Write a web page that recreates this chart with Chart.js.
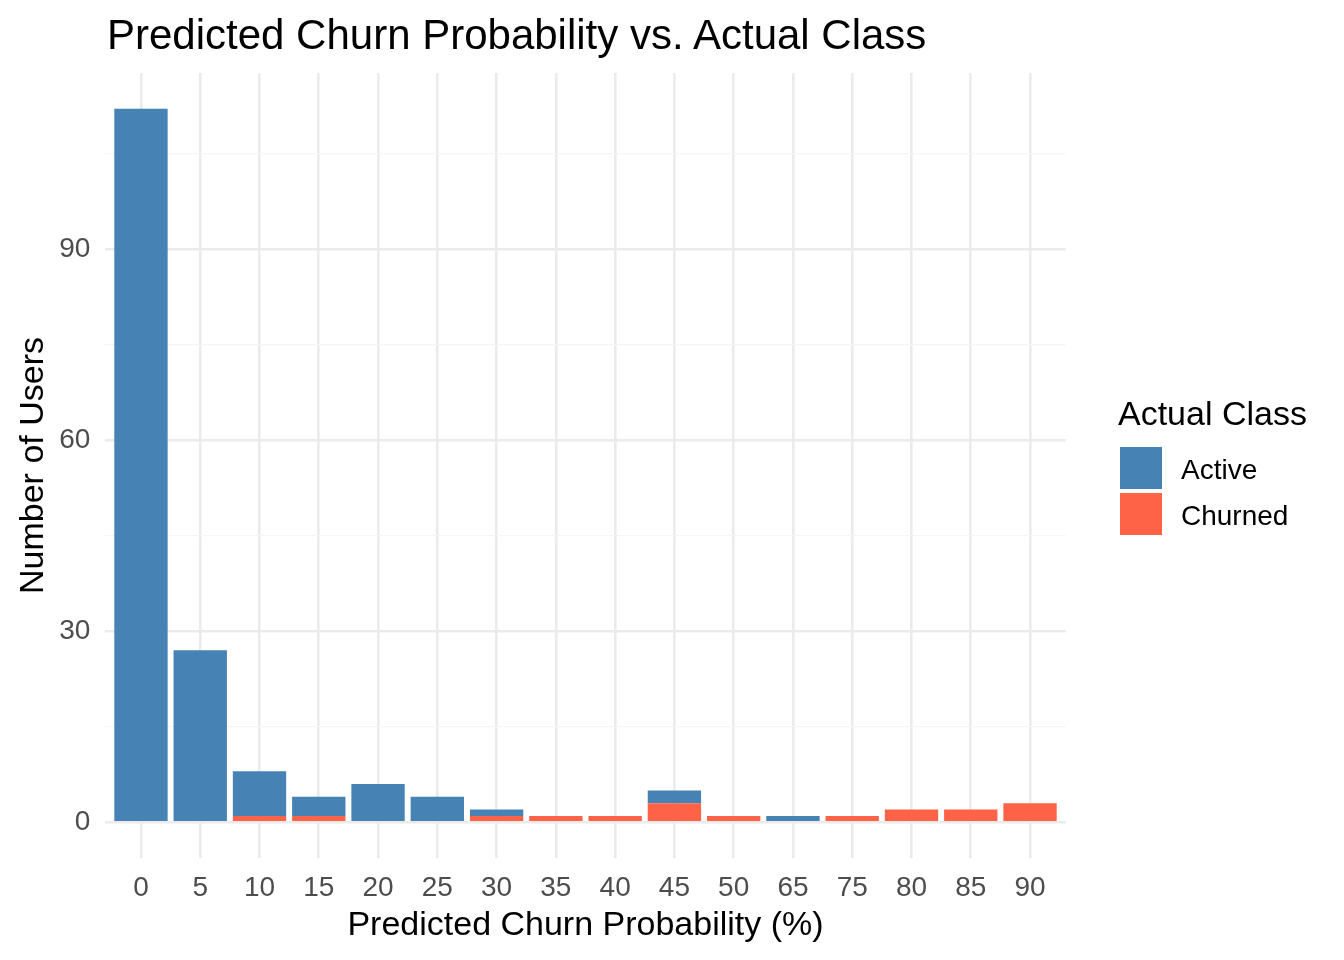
<!DOCTYPE html>
<html>
<head>
<meta charset="utf-8">
<script src="https://cdn.jsdelivr.net/npm/chart.js@4/dist/chart.umd.min.js"></script>
<style>
  body { margin: 0; background: #fff; font-family: "Liberation Sans", Arial, sans-serif; }
  #wrap { position: relative; width: 1344px; height: 960px; }
  #title { position: absolute; left: 107px; top: 14px; font-size: 42px; line-height: 42px; color: #000; white-space: nowrap; }
  #legend { position: absolute; left: 1118px; top: 396px; color: #000; }
  #legend .lt { font-size: 34px; line-height: 34px; white-space: nowrap; }
  #legend .item { position: absolute; left: 2px; width: 200px; height: 42px; }
  #legend .box { position: absolute; left: 0; top: 0; width: 42px; height: 42px; }
  #legend .lab { position: absolute; left: 61px; top: 9px; font-size: 28px; line-height: 28px; white-space: nowrap; }
</style>
</head>
<body>
<div id="wrap">
  <canvas id="churn-chart"></canvas>
  <div id="title">Predicted Churn Probability vs. Actual Class</div>
  <div id="legend"></div>
</div>
<script>
// bins of predicted churn probability (%)
const categories = ["0", "5", "10", "15", "20", "25", "30", "35", "40", "45", "50", "65", "75", "80", "85", "90"];
// users per bin, split by actual class
const activeCounts  = [112, 27, 7, 3, 6, 4, 1, 0, 0, 2, 0, 1, 0, 0, 0, 0];
const churnedCounts = [0, 0, 1, 1, 0, 0, 1, 1, 1, 3, 1, 0, 1, 2, 2, 3];
const yTicks = [0, 15, 30, 45, 60, 75, 90, 105];

const seriesNames = ["Active", "Churned"];
const seriesColors = ["#4682B4", "#FF6347"];

function toPoints(arr) {
  return arr.map((v, i) => ({ x: i, y: v }));
}

function buildLegend() {
  const legend = document.getElementById("legend");
  legend.innerHTML = '<div class="lt">Actual Class</div>';
  seriesNames.forEach((name, i) => {
    const item = document.createElement("div");
    item.className = "item";
    item.style.top = (51 + i * 46) + "px";
    item.innerHTML = `<div class="box" style="background:${seriesColors[i]}"></div><div class="lab">${name}</div>`;
    legend.appendChild(item);
  });
}

function drawChart() {
  const ctx = document.getElementById("churn-chart").getContext("2d");
  const font = "'Liberation Sans', Arial, sans-serif";

  new Chart(ctx, {
    type: 'bar',
    data: {
      datasets: [
        // churned drawn first so it sits at the bottom of each stack
        { label: seriesNames[1], data: toPoints(churnedCounts), backgroundColor: seriesColors[1] },
        { label: seriesNames[0], data: toPoints(activeCounts), backgroundColor: seriesColors[0] }
      ]
    },
    options: {
      responsive: true,
      maintainAspectRatio: false,
      animation: false,
      layout: { padding: { top: 73, right: 278.4, left: 0, bottom: 0 } },
      datasets: { bar: { categoryPercentage: 1, barPercentage: 0.9, borderWidth: 0 } },
      plugins: { legend: { display: false }, tooltip: { enabled: false }, title: { display: false } },
      scales: {
        x: {
          type: 'linear',
          stacked: true,
          offset: false,
          min: -0.6,
          max: categories.length - 1 + 0.6,
          afterBuildTicks: (scale) => { scale.ticks = categories.map((c, i) => ({ value: i })); },
          afterFit: (scale) => { scale.height = 102; },
          ticks: {
            autoSkip: false,
            maxRotation: 0,
            padding: 13,
            color: '#4d4d4d',
            font: { family: font, size: 28 },
            callback: (v) => categories[v]
          },
          grid: { offset: false, color: '#ebebeb', lineWidth: 2.6, drawTicks: false },
          border: { display: false },
          title: {
            display: true,
            text: 'Predicted Churn Probability (%)',
            color: '#000',
            font: { family: font, size: 34 },
            padding: { top: 0, bottom: 14 }
          }
        },
        y: {
          stacked: true,
          min: -5.6,
          max: 117.6,
          afterBuildTicks: (scale) => { scale.ticks = yTicks.map(v => ({ value: v })); },
          afterFit: (scale) => { scale.width = 105.4; },
          ticks: {
            padding: 15,
            color: '#4d4d4d',
            font: { family: font, size: 28 },
            callback: (v) => (v % 30 === 0 ? String(v) : '')
          },
          grid: {
            drawTicks: false,
            color: (c) => (c.tick && c.tick.value % 30 === 0 ? '#ebebeb' : '#f5f5f5'),
            lineWidth: (c) => (c.tick && c.tick.value % 30 === 0 ? 2.6 : 1.3)
          },
          border: { display: false },
          title: {
            display: true,
            text: 'Number of Users',
            color: '#000',
            font: { family: font, size: 34 },
            padding: { top: 13, bottom: 0 }
          }
        }
      }
    }
  });
}

document.addEventListener("DOMContentLoaded", () => {
  buildLegend();
  drawChart();
});
</script>
</body>
</html>
